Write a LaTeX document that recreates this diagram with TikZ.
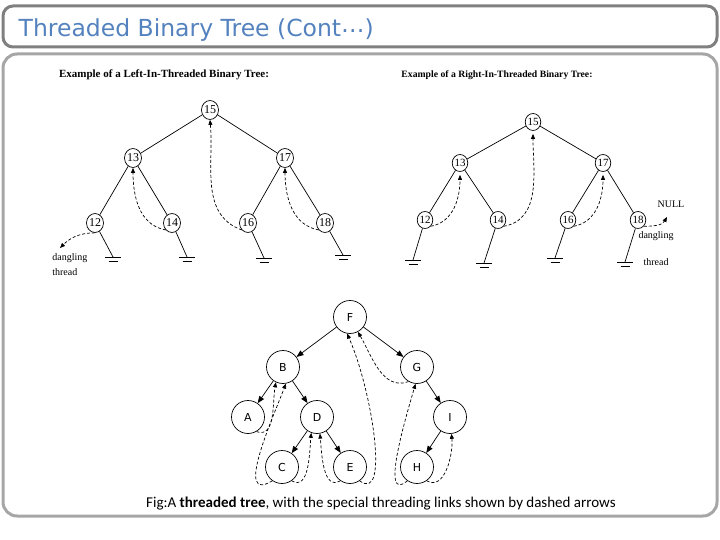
\documentclass[tikz,border=0pt]{standalone}
\usepackage{fontspec}
\setmainfont{Liberation Serif}
\newfontfamily\titlefont{DejaVu Sans}
\newfontfamily\capfont{Carlito}
\newfontfamily\letterfont{DejaVu Sans}
\usetikzlibrary{shapes.geometric,arrows.meta}
\definecolor{titleblue}{RGB}{84,130,190}
\definecolor{framedark}{RGB}{128,128,128}
\definecolor{framelight}{RGB}{166,166,166}
% ground symbol under a leaf
\newcommand{\gnd}[1]{\draw ([xshift=-8pt]#1) -- ([xshift=8pt]#1) ([xshift=-4.5pt,yshift=-4.5pt]#1) -- ([xshift=4.5pt,yshift=-4.5pt]#1);}

\begin{document}
\begin{tikzpicture}[
            x=1pt,y=-1pt,line width=0.7pt,
            num/.style={draw,ellipse,minimum width=17pt,minimum height=19pt,inner sep=0pt,font=\fontsize{12}{12}\selectfont},
            snum/.style={num,minimum width=15pt,minimum height=17pt,font=\fontsize{11}{11}\selectfont},
            lt/.style={draw,circle,minimum size=33pt,inner sep=0pt,font=\letterfont\fontsize{11}{11}\selectfont},
            link/.style={-{Triangle[length=7pt,width=5.5pt]}},
            thr/.style={dash pattern=on 3pt off 2pt,-{Triangle[length=5pt,width=4pt]}},
            lbl/.style={inner sep=0pt,font=\fontsize{10}{15}\selectfont},
            hdr/.style={inner sep=0pt,font=\bfseries\fontsize{11}{11}\selectfont}
        ]

        \tikzset{
            node distance=50pt,
        }

        \useasboundingbox (0,0) rectangle (720,540);
        \draw[framedark,line width=3pt,rounded corners=10pt] (3,6) rectangle (717,47);
        \draw[framelight,line width=3pt,rounded corners=14pt] (3,54) rectangle (717,516);
        \node[anchor=west,text=titleblue,font=\titlefont\fontsize{23.5}{24}\selectfont] (title) at (15,30) {Threaded Binary Tree (Cont\raisebox{0.3ex}{…})};

        % left-in-threaded tree
        \node[hdr] (lhead) at (164,75) {Example of a Left-In-Threaded Binary Tree:};
        \node[num] (l15) at (210,110) {15};
        \node[num,below of=l15,xshift=-77pt,yshift=2pt] (l13) {13};
        \node[num,below of=l15,xshift=75pt,yshift=2pt] (l17) {17};
        \node[num,below of=l13,xshift=-38pt,yshift=-15pt] (l12) {12};
        \node[num,below of=l13,xshift=39pt,yshift=-15pt] (l14) {14};
        \node[num,below of=l17,xshift=-37pt,yshift=-15pt] (l16) {16};
        \node[num,below of=l17,xshift=40pt,yshift=-15pt] (l18) {18};
        \coordinate (lg12) at (113,257);
        \coordinate (lg14) at (187,257);
        \coordinate (lg16) at (264,258);
        \coordinate (lg18) at (343,255);
        \coordinate (ldang) at (60,248);
        \node[lbl,align=left,anchor=north west] (ldtext) at (52,253) {dangling\\thread};

        \draw
            (l15) edge (l13)
            (l15) edge (l17)
            (l13) edge (l12)
            (l13) edge (l14)
            (l17) edge (l16)
            (l17) edge (l18)
            (l12) edge (lg12)
            (l14) edge (lg14)
            (l16) edge (lg16)
            (l18) edge (lg18)
        ;
        \gnd{lg12} \gnd{lg14} \gnd{lg16} \gnd{lg18}
        \draw[thr] (l14.south west) to[out=170,in=-90] (l13.south);
        \draw[thr] (l16.south west) to[out=160,in=-85] (l15.south);
        \draw[thr] (l18.south west) to[out=170,in=-90] (l17.south);
        \draw[thr] (l12.south) to[out=180,in=45] (ldang);

        % right-in-threaded tree
        \node[hdr,font=\bfseries\fontsize{9.7}{10}\selectfont] (rhead) at (497,75) {Example of a Right-In-Threaded Binary Tree:};
        \node[snum] (r15) at (533,122) {15};
        \node[snum,below of=r15,xshift=-73pt,yshift=9pt] (r13) {13};
        \node[snum,below of=r15,xshift=70pt,yshift=9pt] (r17) {17};
        \node[snum,below of=r13,xshift=-35pt,yshift=-7pt] (r12) {12};
        \node[snum,below of=r13,xshift=38pt,yshift=-7pt] (r14) {14};
        \node[snum,below of=r17,xshift=-35pt,yshift=-7pt] (r16) {16};
        \node[snum,below of=r17,xshift=35pt,yshift=-7pt] (r18) {18};
        \coordinate (rg12) at (413,260);
        \coordinate (rg14) at (484,263);
        \coordinate (rg16) at (555,258);
        \coordinate (rg18) at (625,262);
        \coordinate (rnull) at (667,217);
        \node[lbl] (nulltext) at (671,204) {NULL};
        \node[lbl] (rdtext1) at (656,236) {dangling};
        \node[lbl] (rdtext2) at (656,262) {thread};

        \draw
            (r15) edge (r13)
            (r15) edge (r17)
            (r13) edge (r12)
            (r13) edge (r14)
            (r17) edge (r16)
            (r17) edge (r18)
            (r12) edge (rg12)
            (r14) edge (rg14)
            (r16) edge (rg16)
            (r18) edge (rg18)
        ;
        \gnd{rg12} \gnd{rg14} \gnd{rg16} \gnd{rg18}
        \draw[thr,shorten >=3pt] (r12.south east) to[out=10,in=-90] (r13.south);
        \draw[thr,shorten >=3pt] (r14.south east) to[out=10,in=-90] (r15.south);
        \draw[thr,shorten >=3pt] (r16.south east) to[out=10,in=-90] (r17.south);
        \draw[thr] (r18.south east) to[out=0,in=-120] (rnull);

        % threaded tree with letters
        \node[lt] (F) at (350,317) {F};
        \node[lt,below of=F,xshift=-67pt] (B) {B};
        \node[lt,below of=F,xshift=67pt] (G) {G};
        \node[lt,below of=B,xshift=-35pt] (A) {A};
        \node[lt,below of=B,xshift=34pt] (D) {D};
        \node[lt,below of=G,xshift=33pt] (I) {I};
        \node[lt,below of=D,xshift=-35pt] (C) {C};
        \node[lt,below of=D,xshift=33pt] (E) {E};
        \node[lt,below of=I,xshift=-33pt] (H) {H};

        \draw[link]
            (F) edge (B)
            (F) edge (G)
            (B) edge (A)
            (B) edge (D)
            (D) edge (C)
            (D) edge (E)
            (G) edge (I)
            (I) edge (H)
        ;
        \draw[thr] (A.300) to[out=-20,in=-100] (B.245);
        \draw[thr] (C.235) .. controls (234,504) and (272,420) .. (B.280);
        \draw[thr] (C.305) to[out=-30,in=-95] (D.250);
        \draw[thr] (E.235) to[out=-150,in=-85] (D.280);
        \draw[thr] (E.305) .. controls (390,504) and (372,390) .. (F.260);
        \draw[thr] (H.235) .. controls (380,504) and (405,420) .. (G.265);
        \draw[thr] (H.305) to[out=-30,in=-85] (I.275);
        \draw[thr] (G.240) to[out=-160,in=-60] (F.298);

        \node[font=\capfont\fontsize{15}{15}\selectfont] (caption) at (381,504) {Fig:A \textbf{threaded tree}, with the special threading links shown by dashed arrows};

\end{tikzpicture}
\end{document}
